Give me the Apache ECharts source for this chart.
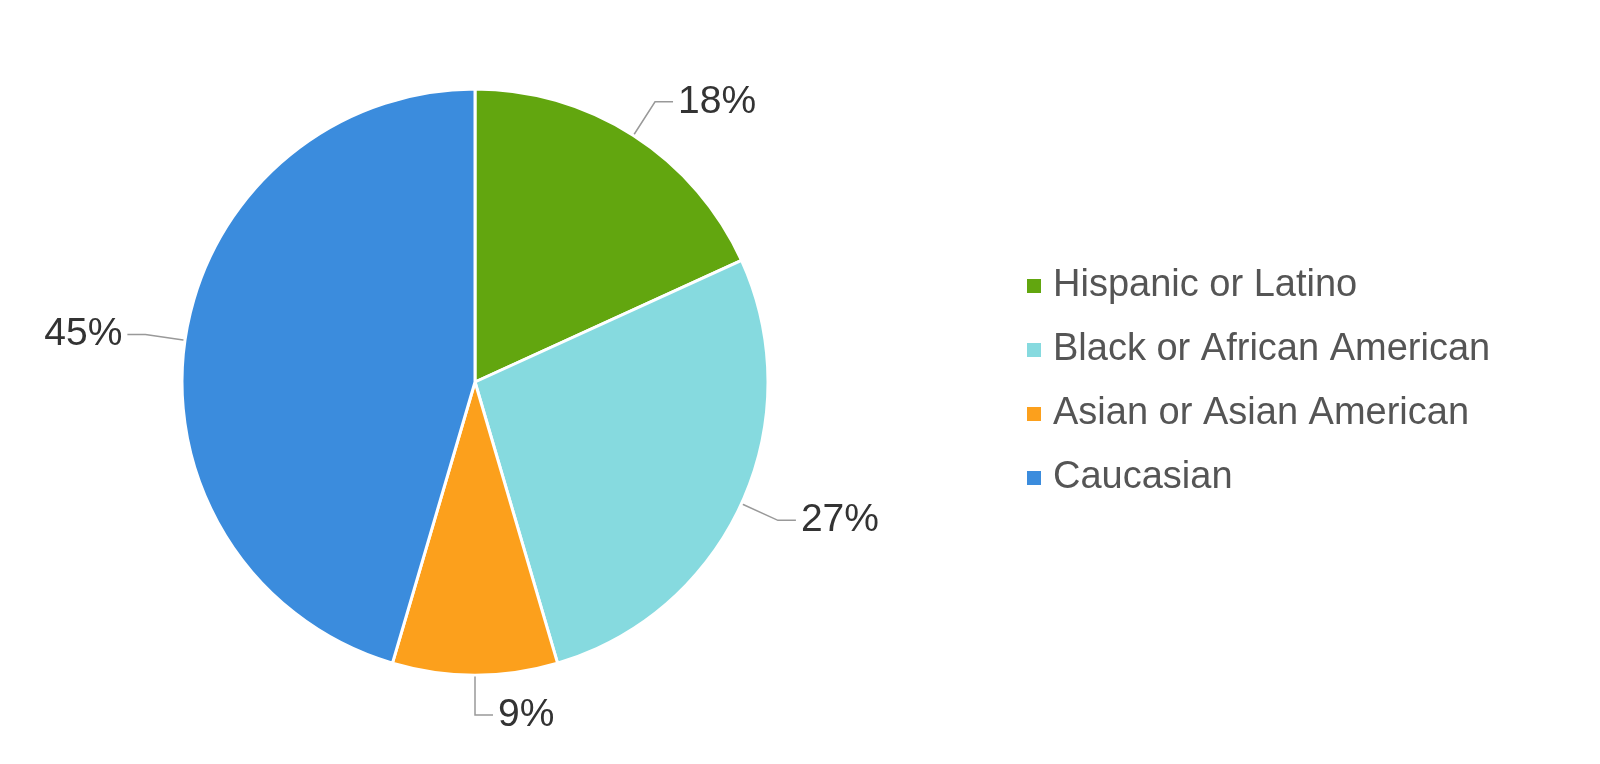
<!DOCTYPE html>
<html><head><meta charset="utf-8">
<script src="https://cdn.jsdelivr.net/npm/echarts@6/dist/echarts.min.js"></script>
<style>html,body{margin:0;padding:0;background:#fff}#c{width:1600px;height:764px}</style>
</head><body><div id="c"></div>
<script>
const categories=['Hispanic or Latino','Black or African American','Asian or Asian American','Caucasian'];
const values=[18,27,9,45];
const colors=['#62a60f','#86dadf','#fca01c','#3b8cdd'];
const chart=echarts.init(document.getElementById('c'));
chart.setOption({
  animation:false,
  legend:{orient:'vertical',left:1020,top:'center',itemWidth:16,itemHeight:16,itemGap:26,icon:'rect',
    textStyle:{fontSize:38,color:'#555',fontFamily:'Liberation Sans, Arial',padding:[0,0,0,6]},data:categories},
  series:[{type:'pie',center:[475,382],radius:293,startAngle:90,clockwise:true,
    data:categories.map((n,i)=>({name:n,value:values[i],itemStyle:{color:colors[i]}})),
    itemStyle:{borderColor:'#fff',borderWidth:3},
    label:{formatter:p=>p.value+'%',fontSize:39,color:'#333',fontFamily:'Liberation Sans, Arial'},
    labelLine:{length:40,length2:18,lineStyle:{color:'#999',width:1.5}}
  }]
});
</script></body></html>
